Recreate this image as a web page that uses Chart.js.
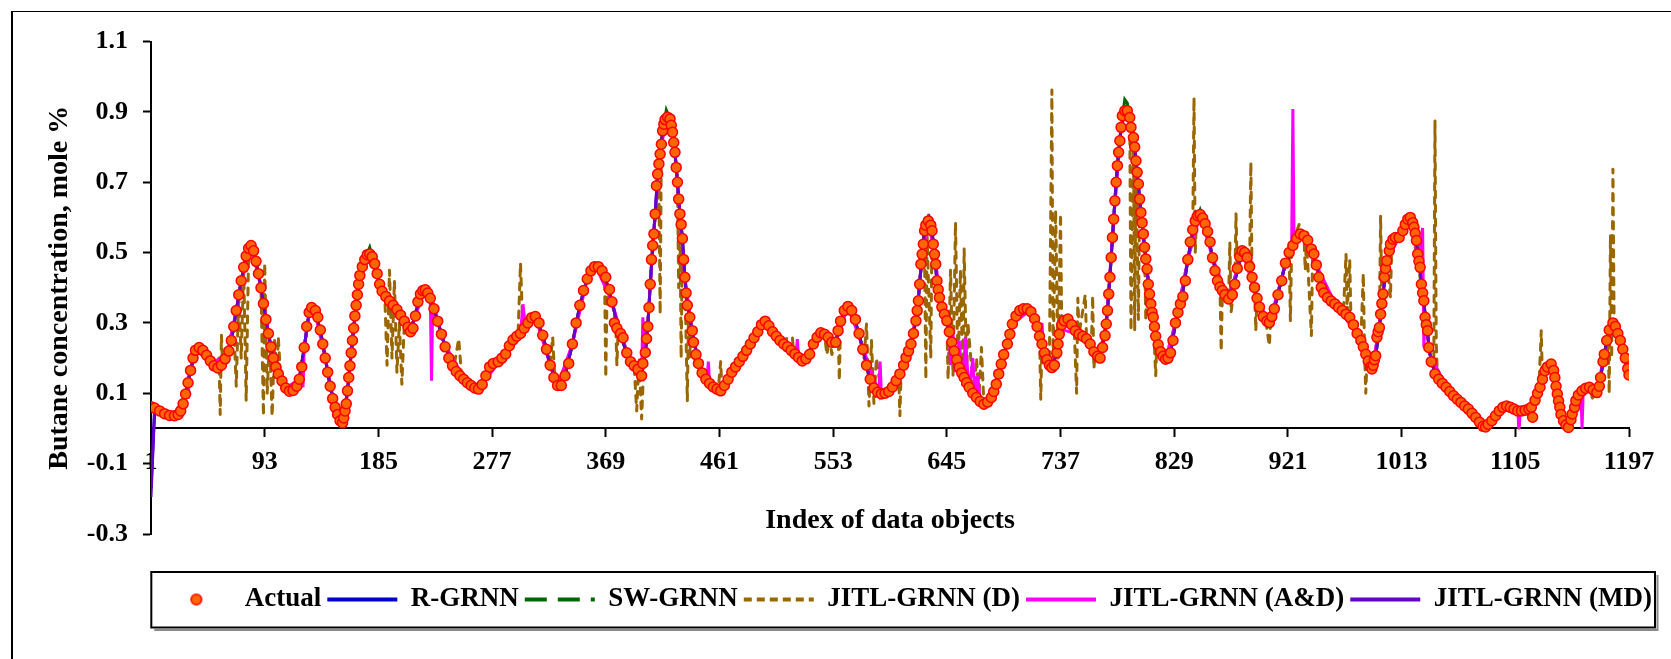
<!DOCTYPE html>
<html lang="en">
<head>
<meta charset="UTF-8">
<title>Butane concentration</title>
<script src="https://cdn.jsdelivr.net/npm/chart.js"></script>
<style>
    html, body { margin: 0; padding: 0; background: #fff; overflow: hidden; }
    #frame {
        position: absolute; left: 11px; top: 11px; width: 1700px; height: 700px;
        border-left: 2px solid #000; border-top: 1px solid #000;
    }
    #chartCanvas { position: absolute; left: 0; top: 0; }
</style>
</head>
<body>
<div id="frame"></div>
<canvas id="chartCanvas" width="1671" height="659"></canvas>
<script>
// x axis: index of data objects, ticks every 92 from 1 to 1197
const X_MIN = 1, X_MAX = 1197, X_STEP = 92;
const Y_MIN = -0.3, Y_MAX = 1.1, Y_STEP = 0.2;

// [index, mole %]
const actual = [[1,.062],[4,.058],[8,.05],[12,.042],[16,.037],[20,.036],[23,.04],[25,.05],[27,.07],[29,.098],[31,.13],[33,.165],[35,.2],[37,.222],[40,.23],[43,.222],[46,.208],[49,.192],[52,.178],[55,.172],[58,.18],[61,.198],[64,.22],[66,.25],[68,.29],[70,.335],[72,.38],[74,.42],[76,.458],[78,.49],[80,.512],[82,.52],[84,.505],[86,.475],[88,.44],[90,.4],[92,.355],[94,.31],[96,.27],[98,.232],[100,.2],[102,.175],[104,.155],[107,.135],[110,.115],[113,.106],[116,.108],[119,.12],[121,.14],[123,.175],[125,.23],[127,.29],[129,.33],[131,.344],[134,.335],[136,.316],[138,.28],[140,.24],[142,.2],[144,.16],[146,.12],[148,.085],[150,.06],[152,.04],[154,.022],[156,.016],[157,.03],[158,.05],[159,.07],[160,.107],[161,.145],[162,.178],[163,.215],[164,.25],[165,.285],[166,.32],[167,.35],[168,.38],[169,.41],[170,.435],[172,.46],[174,.48],[176,.494],[178,.496],[180,.488],[182,.468],[184,.44],[186,.41],[188,.39],[191,.375],[194,.362],[197,.35],[200,.338],[203,.322],[206,.305],[209,.288],[211,.275],[213,.285],[215,.32],[217,.36],[219,.382],[221,.392],[223,.394],[225,.385],[227,.37],[230,.34],[233,.305],[236,.268],[239,.232],[242,.2],[245,.178],[248,.162],[251,.15],[254,.14],[257,.13],[260,.122],[263,.115],[266,.112],[269,.125],[272,.15],[275,.175],[278,.185],[282,.19],[285,.2],[288,.212],[291,.235],[294,.252],[297,.262],[300,.27],[303,.285],[306,.3],[309,.315],[312,.318],[315,.3],[318,.265],[321,.225],[324,.18],[327,.145],[330,.122],[333,.122],[336,.15],[339,.185],[342,.24],[345,.3],[348,.35],[351,.392],[354,.425],[357,.448],[360,.46],[363,.46],[366,.448],[369,.43],[372,.395],[374,.36],[376,.3],[378,.285],[381,.27],[383,.258],[386,.215],[389,.19],[392,.178],[395,.168],[398,.15],[399,.185],[401,.216],[402,.255],[403,.29],[404,.344],[405,.41],[406,.48],[407,.52],[408,.553],[409,.61],[410,.69],[411,.723],[412,.752],[413,.78],[414,.808],[415,.846],[416,.865],[417,.878],[419,.885],[421,.88],[422,.862],[423,.842],[424,.813],[425,.785],[426,.742],[427,.7],[428,.652],[429,.61],[430,.58],[431,.54],[432,.48],[433,.43],[434,.385],[435,.35],[437,.316],[439,.278],[440,.245],[442,.21],[444,.185],[447,.158],[450,.14],[453,.128],[456,.118],[459,.112],[462,.107],[465,.122],[468,.14],[471,.16],[474,.175],[477,.19],[480,.205],[483,.222],[486,.24],[489,.258],[492,.275],[495,.295],[498,.305],[501,.292],[504,.275],[507,.262],[510,.25],[513,.24],[516,.232],[519,.222],[522,.212],[525,.202],[528,.192],[531,.198],[534,.211],[537,.24],[540,.259],[543,.272],[546,.268],[549,.259],[552,.245],[555,.245],[557,.278],[559,.305],[562,.335],[565,.347],[568,.335],[571,.31],[574,.27],[577,.225],[580,.18],[583,.14],[586,.115],[589,.103],[592,.098],[595,.1],[598,.105],[601,.118],[604,.136],[607,.155],[610,.18],[612,.202],[614,.22],[616,.24],[618,.27],[620,.306],[621,.335],[622,.363],[623,.41],[624,.467],[625,.495],[626,.524],[627,.562],[628,.578],[630,.59],[632,.578],[633,.562],[634,.524],[635,.495],[636,.467],[637,.42],[638,.395],[639,.372],[641,.345],[643,.325],[645,.306],[647,.275],[649,.245],[651,.22],[653,.195],[655,.173],[657,.158],[659,.145],[661,.13],[663,.117],[666,.1],[669,.088],[672,.077],[675,.069],[678,.075],[681,.088],[683,.105],[685,.126],[687,.155],[689,.183],[691,.21],[694,.24],[696,.268],[698,.297],[701,.32],[704,.335],[707,.34],[710,.34],[713,.332],[716,.312],[718,.29],[720,.262],[722,.24],[724,.215],[726,.195],[728,.18],[730,.173],[732,.18],[734,.215],[735,.24],[736,.268],[738,.295],[740,.306],[743,.311],[746,.295],[749,.278],[752,.268],[755,.262],[758,.255],[761,.24],[764,.218],[767,.205],[769,.2],[771,.23],[773,.264],[774,.297],[775,.335],[776,.382],[777,.43],[778,.486],[779,.543],[780,.595],[781,.647],[782,.7],[783,.747],[784,.785],[785,.818],[786,.856],[787,.889],[789,.903],[791,.903],[793,.884],[794,.856],[796,.827],[797,.8],[798,.761],[799,.728],[800,.695],[801,.652],[802,.614],[803,.585],[804,.553],[805,.515],[806,.482],[807,.453],[808,.41],[809,.382],[810,.354],[811,.33],[812,.316],[813,.29],[814,.262],[816,.238],[818,.218],[820,.205],[822,.197],[824,.2],[826,.215],[828,.25],[830,.3],[832,.33],[834,.354],[836,.375],[838,.42],[840,.48],[842,.53],[844,.565],[846,.59],[848,.605],[850,.608],[852,.598],[854,.582],[856,.56],[858,.53],[860,.485],[862,.448],[864,.42],[866,.402],[868,.392],[870,.38],[873,.368],[876,.38],[878,.41],[880,.455],[882,.488],[884,.505],[886,.5],[888,.486],[890,.46],[892,.43],[894,.401],[896,.37],[898,.345],[901,.318],[904,.305],[906,.301],[908,.318],[910,.34],[913,.38],[916,.42],[919,.47],[922,.5],[925,.52],[928,.54],[931,.553],[934,.548],[937,.535],[940,.51],[942,.496],[944,.465],[946,.43],[948,.401],[950,.385],[953,.372],[956,.362],[959,.354],[962,.344],[965,.335],[968,.325],[971,.316],[974,.295],[977,.27],[980,.25],[982,.232],[984,.211],[986,.192],[988,.175],[989,.169],[990,.18],[991,.195],[992,.207],[993,.259],[994,.275],[995,.287],[996,.325],[997,.355],[998,.382],[999,.43],[1000,.455],[1001,.477],[1003,.505],[1004,.524],[1006,.538],[1008,.543],[1011,.543],[1014,.562],[1016,.58],[1018,.595],[1020,.6],[1022,.585],[1023,.572],[1024,.555],[1025,.534],[1026,.496],[1027,.475],[1028,.458],[1029,.41],[1030,.385],[1031,.363],[1032,.316],[1033,.295],[1034,.278],[1035,.23],[1037,.19],[1040,.155],[1043,.14],[1046,.128],[1049,.117],[1052,.105],[1055,.093],[1058,.083],[1061,.074],[1064,.064],[1067,.055],[1070,.043],[1073,.031],[1076,.018],[1079,.006],[1081,.004],[1083,.012],[1086,.022],[1089,.036],[1092,.05],[1095,.06],[1098,.064],[1101,.06],[1104,.055],[1107,.05],[1110,.05],[1113,.052],[1116,.055],[1118,.06],[1119,.032],[1121,.08],[1123,.1],[1125,.117],[1127,.14],[1129,.164],[1131,.175],[1134,.183],[1136,.165],[1137,.145],[1138,.12],[1139,.098],[1140,.078],[1141,.06],[1142,.04],[1144,.022],[1146,.01],[1148,.003],[1150,.025],[1151,.041],[1153,.06],[1154,.079],[1156,.095],[1159,.107],[1162,.114],[1165,.117],[1168,.11],[1171,.102],[1173,.12],[1174,.145],[1176,.19],[1177,.211],[1179,.25],[1181,.28],[1184,.3],[1186,.29],[1188,.27],[1190,.25],[1192,.225],[1194,.2],[1196,.17],[1197,.152]];

const rGrnn = [[1,-.17],[4,.058],[12,.042],[20,.036],[25,.05],[29,.098],[33,.165],[37,.222],[42,.225],[50,.188],[56,.174],[62,.205],[66,.25],[70,.335],[74,.42],[78,.49],[82,.52],[86,.475],[90,.4],[94,.31],[98,.232],[103,.165],[110,.115],[116,.108],[121,.14],[125,.23],[129,.33],[133,.34],[138,.28],[142,.2],[146,.12],[150,.06],[154,.022],[156,.016],[158,.05],[160,.107],[162,.178],[164,.25],[166,.32],[168,.38],[170,.435],[174,.48],[178,.496],[182,.468],[186,.41],[195,.358],[204,.316],[211,.275],[216,.34],[222,.394],[230,.34],[238,.244],[246,.172],[256,.133],[266,.112],[274,.165],[284,.195],[294,.252],[304,.29],[312,.318],[318,.265],[324,.18],[330,.122],[336,.15],[342,.24],[348,.35],[354,.425],[361,.46],[368,.436],[374,.36],[380,.275],[386,.215],[392,.178],[398,.15],[401,.216],[403,.29],[405,.41],[407,.52],[409,.61],[411,.723],[413,.78],[415,.846],[418,.883],[421,.88],[423,.842],[425,.785],[427,.7],[429,.61],[431,.54],[433,.43],[435,.35],[439,.278],[444,.185],[452,.132],[462,.107],[474,.175],[486,.24],[498,.305],[508,.255],[518,.225],[528,.192],[536,.23],[543,.272],[550,.255],[555,.245],[560,.315],[565,.347],[570,.318],[576,.24],[582,.15],[590,.1],[600,.112],[608,.16],[614,.22],[618,.27],[621,.335],[623,.41],[625,.495],[627,.562],[630,.59],[633,.562],[635,.495],[637,.42],[641,.345],[647,.275],[653,.195],[660,.138],[668,.092],[675,.069],[682,.095],[687,.155],[692,.22],[698,.297],[705,.338],[712,.336],[718,.29],[724,.215],[730,.173],[734,.215],[737,.282],[743,.311],[752,.268],[761,.24],[768,.202],[772,.25],[774,.297],[776,.382],[778,.486],[780,.595],[782,.7],[784,.785],[786,.856],[789,.903],[791,.903],[793,.884],[795,.84],[797,.8],[799,.728],[801,.652],[803,.585],[805,.515],[807,.453],[809,.382],[811,.33],[814,.262],[818,.218],[822,.197],[826,.215],[830,.3],[835,.365],[840,.48],[845,.578],[850,.608],[855,.572],[860,.485],[866,.402],[873,.368],[879,.432],[884,.505],[890,.46],[896,.37],[903,.308],[910,.34],[918,.455],[926,.525],[932,.552],[938,.53],[944,.465],[950,.385],[960,.35],[970,.318],[978,.262],[984,.211],[989,.169],[992,.207],[995,.287],[998,.382],[1001,.477],[1005,.532],[1011,.543],[1016,.58],[1020,.6],[1024,.555],[1027,.475],[1030,.385],[1033,.295],[1036,.21],[1040,.155],[1050,.113],[1060,.077],[1070,.043],[1080,.005],[1090,.04],[1098,.064],[1106,.052],[1114,.053],[1120,.07],[1124,.108],[1128,.152],[1134,.183],[1137,.145],[1140,.078],[1143,.03],[1148,.003],[1152,.05],[1156,.095],[1164,.116],[1171,.102],[1174,.145],[1177,.211],[1180,.265],[1184,.3],[1190,.25],[1197,.152]];

const swGrnn = [[1,.062],[4,.058],[12,.042],[20,.036],[25,.05],[29,.098],[33,.165],[37,.222],[42,.225],[50,.188],[56,.174],[62,.205],[66,.25],[70,.335],[74,.42],[78,.49],[82,.528],[86,.475],[90,.4],[94,.31],[98,.232],[103,.165],[110,.115],[116,.108],[121,.14],[125,.23],[129,.33],[133,.34],[138,.28],[142,.2],[146,.12],[150,.06],[154,.022],[156,.016],[158,.05],[160,.107],[162,.178],[164,.25],[166,.32],[168,.38],[170,.435],[174,.48],[178,.515],[182,.468],[186,.41],[195,.358],[204,.316],[211,.275],[216,.34],[222,.394],[230,.34],[238,.244],[246,.172],[256,.133],[266,.112],[274,.165],[284,.195],[294,.252],[304,.29],[312,.318],[318,.265],[324,.18],[330,.122],[336,.15],[342,.24],[348,.35],[354,.425],[361,.46],[368,.436],[374,.36],[380,.275],[386,.215],[392,.178],[398,.15],[401,.216],[403,.29],[405,.41],[407,.52],[409,.61],[411,.723],[413,.78],[415,.846],[418,.905],[421,.88],[423,.842],[425,.785],[427,.7],[429,.61],[431,.54],[433,.43],[435,.35],[439,.278],[444,.185],[452,.132],[462,.107],[474,.175],[486,.24],[498,.305],[508,.255],[518,.225],[528,.192],[536,.23],[543,.272],[550,.255],[555,.245],[560,.315],[565,.347],[570,.318],[576,.24],[582,.15],[590,.1],[600,.112],[608,.16],[614,.22],[618,.27],[621,.335],[623,.41],[625,.495],[627,.562],[630,.612],[633,.562],[635,.495],[637,.42],[641,.345],[647,.275],[653,.195],[660,.138],[668,.092],[675,.069],[682,.095],[687,.155],[692,.22],[698,.297],[705,.338],[712,.336],[718,.29],[724,.215],[730,.173],[734,.215],[737,.282],[743,.318],[752,.268],[761,.24],[768,.202],[772,.25],[774,.297],[776,.382],[778,.486],[780,.595],[782,.7],[784,.785],[786,.856],[789,.935],[791,.925],[793,.884],[795,.84],[797,.8],[799,.728],[801,.652],[803,.585],[805,.515],[807,.453],[809,.382],[811,.33],[814,.262],[818,.218],[822,.19],[826,.215],[830,.3],[835,.365],[840,.48],[845,.578],[850,.622],[855,.572],[860,.485],[866,.402],[873,.368],[879,.432],[884,.505],[890,.46],[896,.37],[903,.308],[910,.34],[918,.455],[926,.525],[932,.552],[938,.53],[944,.465],[950,.385],[960,.35],[970,.318],[978,.262],[984,.211],[989,.169],[992,.207],[995,.287],[998,.382],[1001,.477],[1005,.532],[1008,.56],[1011,.545],[1016,.58],[1020,.6],[1024,.555],[1027,.475],[1030,.385],[1033,.295],[1036,.21],[1040,.155],[1050,.113],[1060,.077],[1070,.043],[1080,.005],[1090,.04],[1098,.064],[1106,.052],[1114,.053],[1120,.07],[1124,.108],[1128,.152],[1134,.183],[1137,.145],[1140,.078],[1143,.03],[1148,-.005],[1152,.05],[1156,.095],[1164,.116],[1171,.102],[1174,.145],[1177,.211],[1180,.265],[1184,.3],[1190,.25],[1197,.152]];

const jitlD = [[1,.062],[12,.042],[20,.036],[25,.05],[30,.115],[34,.2],[37,.222],[45,.215],[52,.178],[56,.2],[57,.04],[58,.265],[59,.178],[62,.205],[66,.25],[68,.29],[70,.12],[72,.38],[74,.2],[76,.458],[78,.08],[80,.5],[82,.52],[86,.475],[88,.44],[90,.4],[92,.036],[93,.47],[95,.1],[97,.26],[99,.035],[101,.25],[103,.16],[104,.26],[106,.14],[110,.115],[116,.108],[121,.14],[125,.23],[129,.33],[133,.34],[138,.28],[142,.2],[146,.12],[150,.06],[156,.016],[160,.107],[164,.25],[168,.38],[172,.46],[176,.494],[180,.488],[186,.41],[190,.4],[192,.18],[194,.45],[196,.2],[198,.42],[200,.16],[202,.3],[204,.126],[206,.3],[211,.275],[216,.34],[222,.394],[230,.34],[238,.244],[246,.172],[250,.255],[252,.165],[256,.133],[266,.112],[274,.165],[284,.195],[294,.252],[298,.265],[300,.47],[302,.275],[309,.315],[312,.318],[318,.265],[324,.18],[326,.26],[328,.13],[332,.122],[342,.24],[348,.35],[354,.425],[361,.46],[368,.44],[369,.145],[370,.373],[374,.36],[377,.3],[378,.18],[379,.28],[383,.258],[386,.215],[392,.178],[394,.05],[396,.2],[398,.027],[400,.2],[402,.255],[405,.41],[409,.61],[412,.685],[413,.325],[414,.808],[415,.846],[418,.883],[421,.88],[424,.813],[427,.7],[428,.4],[429,.61],[430,.2],[431,.54],[433,.43],[435,.079],[436,.33],[437,.2],[438,.3],[440,.245],[444,.185],[452,.132],[460,.11],[462,.19],[463,.11],[474,.175],[486,.24],[498,.305],[510,.25],[520,.26],[521,.215],[528,.192],[540,.259],[546,.265],[548,.21],[550,.26],[552,.21],[554,.245],[557,.278],[558,.136],[559,.305],[565,.347],[574,.27],[578,.2],[580,.297],[582,.064],[584,.25],[586,.07],[588,.2],[592,.098],[600,.112],[606,.15],[607,.036],[608,.16],[614,.22],[620,.306],[625,.495],[627,.486],[628,.14],[629,.55],[632,.2],[633,.56],[637,.42],[645,.306],[646,.14],[648,.45],[650,.15],[652,.586],[654,.16],[656,.45],[658,.14],[659,.51],[661,.15],[662,.3],[667,.09],[669,.2],[671,.09],[673,.23],[675,.069],[685,.126],[698,.297],[712,.336],[720,.262],[721,.083],[722,.25],[724,.215],[728,.2],[730,.962],[731,.18],[733,.62],[735,.2],[737,.61],[738,.28],[743,.311],[748,.29],[750,.1],[751,.37],[752,.268],[757,.38],[758,.26],[762,.24],[763,.377],[764,.17],[765,.211],[768,.202],[774,.297],[780,.595],[786,.856],[790,.903],[793,.884],[794,.278],[796,.82],[797,.28],[798,.761],[800,.31],[801,.652],[805,.515],[806,.306],[807,.453],[812,.32],[814,.15],[815,.25],[822,.197],[830,.3],[840,.48],[844,.565],[845,.94],[846,.5],[847,.6],[850,.608],[855,.572],[862,.448],[866,.402],[867,.22],[868,.392],[873,.368],[874,.53],[875,.33],[878,.41],[879,.61],[880,.455],[884,.505],[890,.46],[891,.756],[892,.43],[894,.401],[895,.278],[896,.37],[903,.308],[906,.235],[907,.31],[918,.455],[922,.5],[923,.306],[924,.515],[930,.58],[931,.553],[934,.548],[935,.45],[936,.54],[940,.264],[941,.5],[950,.385],[966,.335],[968,.496],[969,.33],[971,.48],[972,.31],[980,.25],[982,.44],[983,.22],[984,.1],[985,.2],[989,.169],[995,.287],[996,.605],[997,.355],[1001,.477],[1004,.372],[1005,.532],[1011,.543],[1020,.6],[1030,.385],[1036,.21],[1039,.16],[1040,.875],[1041,.25],[1042,.14],[1050,.113],[1060,.077],[1070,.043],[1080,.005],[1090,.04],[1098,.064],[1107,.05],[1108,-.005],[1109,.05],[1120,.07],[1124,.11],[1126,.278],[1127,.13],[1134,.183],[1140,.078],[1148,.003],[1156,.095],[1165,.117],[1168,.079],[1170,.1],[1174,.145],[1180,.265],[1181,.1],[1182,.55],[1183,.2],[1184,.737],[1185,.28],[1186,.29],[1190,.25],[1197,.152]];

const jitlAD = [[1,.062],[20,.036],[29,.098],[30,.12],[31,.085],[32,.15],[37,.222],[50,.188],[62,.205],[70,.335],[78,.49],[82,.52],[90,.4],[98,.232],[110,.115],[121,.14],[123,.175],[124,.117],[125,.23],[129,.33],[133,.34],[142,.2],[150,.06],[156,.016],[160,.107],[164,.25],[168,.38],[174,.48],[178,.496],[186,.41],[204,.316],[211,.275],[222,.394],[227,.37],[228,.136],[229,.36],[238,.244],[256,.133],[266,.112],[284,.195],[294,.252],[300,.27],[302,.353],[304,.29],[312,.318],[324,.18],[330,.122],[342,.24],[354,.425],[361,.46],[374,.36],[386,.215],[398,.15],[399,.316],[401,.216],[403,.29],[405,.41],[409,.61],[413,.78],[418,.883],[421,.88],[425,.785],[429,.61],[433,.43],[439,.278],[444,.185],[451,.133],[452,.19],[453,.13],[462,.107],[486,.24],[498,.305],[518,.225],[523,.206],[524,.254],[525,.202],[528,.192],[543,.272],[555,.245],[565,.347],[576,.24],[590,.1],[591,.19],[592,.098],[600,.112],[614,.22],[621,.335],[625,.495],[630,.59],[635,.495],[641,.345],[647,.275],[648,.18],[650,.27],[652,.16],[655,.25],[658,.12],[660,.26],[663,.1],[666,.2],[668,.08],[670,.15],[672,.077],[675,.069],[687,.155],[698,.297],[712,.336],[721,.25],[722,.3],[723,.23],[730,.173],[737,.282],[752,.268],[768,.202],[774,.297],[780,.595],[786,.856],[789,.903],[793,.884],[797,.8],[801,.652],[805,.515],[809,.382],[814,.262],[822,.197],[830,.3],[840,.48],[850,.608],[860,.485],[873,.368],[884,.505],[896,.37],[906,.301],[918,.455],[924,.515],[925,.908],[926,.525],[932,.552],[944,.465],[960,.35],[978,.262],[989,.169],[995,.287],[1001,.477],[1011,.543],[1020,.6],[1027,.475],[1030,.57],[1031,.23],[1032,.316],[1036,.21],[1050,.113],[1070,.043],[1080,.005],[1098,.064],[1107,.05],[1108,0],[1109,.05],[1120,.07],[1128,.152],[1134,.183],[1140,.078],[1148,.003],[1156,.095],[1158,.11],[1159,0],[1160,.11],[1171,.102],[1177,.211],[1184,.3],[1197,.152]];

const mdGrnn = [[1,-.195],[4,.058],[12,.042],[20,.036],[25,.05],[29,.098],[33,.165],[37,.222],[42,.225],[50,.188],[56,.174],[62,.205],[66,.25],[70,.335],[74,.42],[78,.49],[82,.52],[86,.475],[90,.4],[94,.31],[98,.232],[103,.165],[110,.115],[116,.108],[121,.14],[125,.23],[129,.33],[133,.34],[138,.28],[142,.2],[146,.12],[150,.06],[154,.022],[156,.016],[158,.05],[160,.107],[162,.178],[164,.25],[166,.32],[168,.38],[170,.435],[174,.48],[178,.496],[182,.468],[186,.41],[195,.358],[204,.316],[211,.275],[216,.34],[222,.394],[230,.34],[238,.244],[246,.172],[256,.133],[266,.112],[274,.165],[284,.195],[294,.252],[304,.29],[312,.318],[318,.265],[324,.18],[330,.122],[336,.15],[342,.24],[348,.35],[354,.425],[361,.46],[368,.436],[374,.36],[380,.275],[386,.215],[392,.178],[398,.15],[401,.216],[403,.29],[405,.41],[407,.52],[409,.61],[411,.723],[413,.78],[415,.846],[418,.883],[421,.88],[423,.842],[425,.785],[427,.7],[429,.61],[431,.54],[433,.43],[435,.35],[439,.278],[444,.185],[452,.132],[462,.107],[474,.175],[486,.24],[498,.305],[508,.255],[518,.225],[528,.192],[536,.23],[543,.272],[550,.255],[555,.245],[560,.315],[565,.347],[570,.318],[576,.24],[582,.15],[590,.1],[600,.112],[608,.16],[614,.22],[618,.27],[621,.335],[623,.41],[625,.495],[627,.562],[630,.59],[633,.562],[635,.495],[637,.42],[641,.345],[647,.275],[653,.195],[660,.138],[668,.092],[675,.069],[682,.095],[687,.155],[692,.22],[698,.297],[705,.338],[712,.336],[718,.29],[724,.215],[730,.173],[734,.215],[737,.282],[743,.311],[752,.268],[761,.24],[768,.202],[772,.25],[774,.297],[776,.382],[778,.486],[780,.595],[782,.7],[784,.785],[786,.856],[789,.903],[791,.903],[793,.884],[795,.84],[797,.8],[799,.728],[801,.652],[803,.585],[805,.515],[807,.453],[809,.382],[811,.33],[814,.262],[818,.218],[822,.197],[826,.215],[830,.3],[835,.365],[840,.48],[845,.578],[850,.608],[855,.572],[860,.485],[866,.402],[873,.368],[879,.432],[884,.505],[890,.46],[896,.37],[903,.308],[910,.34],[918,.455],[926,.525],[932,.552],[938,.53],[944,.465],[950,.385],[960,.35],[970,.318],[978,.262],[984,.211],[989,.169],[992,.207],[995,.287],[998,.382],[1001,.477],[1005,.532],[1011,.543],[1016,.58],[1020,.6],[1024,.555],[1027,.475],[1030,.385],[1033,.295],[1036,.21],[1040,.155],[1050,.113],[1060,.077],[1070,.043],[1080,.005],[1090,.04],[1098,.064],[1106,.052],[1114,.053],[1120,.07],[1124,.108],[1128,.152],[1134,.183],[1137,.145],[1140,.078],[1143,.03],[1148,.003],[1152,.05],[1156,.095],[1164,.116],[1171,.102],[1174,.145],[1177,.211],[1180,.265],[1184,.3],[1190,.25],[1197,.152]];

const ORANGE = '#FF6600', RED = '#FF0000';

function toPoints(pairs) {
    return pairs.map(p => ({ x: p[0], y: p[1] }));
}

// marker used for "Actual" in the legend (as wide as the legend symbol box)
const dot = document.createElement('canvas');
dot.width = 70; dot.height = 14;
const dctx = dot.getContext('2d');
dctx.beginPath();
dctx.arc(35, 7, 5.3, 0, Math.PI * 2);
dctx.fillStyle = ORANGE;
dctx.fill();
dctx.lineWidth = 1.5;
dctx.strokeStyle = RED;
dctx.stroke();

// legend line styles
const legendDash = [[], [], [22, 11], [8, 5], [], []];

// box around the legend, drawn from the legend's own hit boxes
const legendFrame = {
    id: 'legendFrame',
    afterDraw(chart) {
        const boxes = chart.legend && chart.legend.legendHitBoxes;
        if (!boxes || !boxes.length) return;
        const first = boxes[0], last = boxes[boxes.length - 1];
        const l = first.left - 10, r = last.left + last.width + 3;
        const t = first.top - 14, b = first.top + first.height + 14.5;
        const ctx = chart.ctx;
        ctx.save();
        ctx.strokeStyle = '#8a8a8a';
        ctx.lineWidth = 2;
        ctx.beginPath();
        ctx.moveTo(l + 3, b + 2.5);
        ctx.lineTo(r + 2.5, b + 2.5);
        ctx.lineTo(r + 2.5, t + 3);
        ctx.stroke();
        ctx.strokeStyle = '#000';
        ctx.lineWidth = 2;
        ctx.strokeRect(l, t, r - l, b - t);
        ctx.restore();
    }
};

Chart.defaults.font.family = "'Liberation Serif', 'Times New Roman', serif";
Chart.defaults.font.weight = 'bold';
Chart.defaults.color = '#000';

const lineBase = { pointRadius: 0, borderWidth: 3, tension: 0, fill: false, xAxisID: 'x', yAxisID: 'y' };

new Chart(document.getElementById('chartCanvas'), {
    type: 'line',
    data: {
        datasets: [
            { label: 'Actual', data: toPoints(actual), showLine: false, pointRadius: 5, pointBorderWidth: 1.5,
              pointBackgroundColor: ORANGE, pointBorderColor: RED, borderColor: RED, backgroundColor: ORANGE,
              xAxisID: 'x', yAxisID: 'y', order: 0 },
            Object.assign({ label: 'R-GRNN', data: toPoints(rGrnn), borderColor: '#0000CC', order: 5 }, lineBase),
            Object.assign({ label: 'SW-GRNN', data: toPoints(swGrnn), borderColor: '#006600', borderDash: [22, 11], order: 4 }, lineBase),
            Object.assign({ label: 'JITL-GRNN (D)', data: toPoints(jitlD), borderColor: '#996600', borderDash: [7, 7],
              borderCapStyle: 'round', borderJoinStyle: 'round', order: 3 }, lineBase),
            Object.assign({ label: 'JITL-GRNN (A&D)', data: toPoints(jitlAD), borderColor: '#FF00FF', order: 2 }, lineBase),
            Object.assign({ label: 'JITL-GRNN (MD)', data: toPoints(mdGrnn), borderColor: '#6600CC', order: 1 }, lineBase)
        ]
    },
    options: {
        responsive: false,
        animation: false,
        devicePixelRatio: 1,
        layout: { padding: { left: 0, right: 13, top: 41.5, bottom: 36 } },
        scales: {
            x: {
                type: 'linear',
                position: { y: 0 },
                min: X_MIN, max: X_MAX,
                afterFit: s => { s.height = 46; },
                border: { display: true, color: '#000', width: 2 },
                grid: { drawOnChartArea: false, drawTicks: true, tickLength: 8, tickWidth: 2, tickColor: '#000' },
                ticks: { stepSize: X_STEP, padding: 10, maxRotation: 0, autoSkip: false,
                         font: { size: 26, weight: 'bold' }, callback: v => String(v) },
                title: { display: true, text: 'Index of data objects', font: { size: 28, weight: 'bold' },
                         padding: { top: 0, bottom: -63.5 } }
            },
            // empty bottom axis: keeps room between the plot and the legend
            xb: {
                type: 'linear',
                position: 'bottom',
                min: 0, max: 1,
                afterFit: s => { s.height = 46; },
                grid: { display: false },
                border: { display: false },
                ticks: { display: false }
            },
            y: {
                type: 'linear',
                position: 'left',
                min: Y_MIN, max: Y_MAX,
                afterFit: s => { s.width = 151; },
                border: { display: true, color: '#000', width: 2 },
                grid: { drawOnChartArea: false, drawTicks: true, tickLength: 8, tickWidth: 2, tickColor: '#000' },
                ticks: { stepSize: Y_STEP, padding: 15, font: { size: 26, weight: 'bold' },
                         callback: v => Number(v).toFixed(1) },
                title: { display: true, text: 'Butane concentration, mole %', font: { size: 28, weight: 'bold' },
                         padding: { top: 43.2, bottom: 0 } }
            },
            // empty right-hand axis: keeps room on the right of the plot
            yr: {
                type: 'linear',
                position: 'right',
                min: 0, max: 1,
                afterFit: s => { s.width = 29; },
                grid: { display: false },
                border: { display: false },
                ticks: { display: false }
            }
        },
        plugins: {
            tooltip: { enabled: false },
            legend: {
                position: 'bottom',
                align: 'end',
                labels: {
                    usePointStyle: true,
                    pointStyleWidth: 70,
                    boxHeight: 8,
                    padding: 6,
                    font: { size: 27, weight: 'bold' },
                    generateLabels: chart => chart.data.datasets.map((ds, i) => ({
                        text: ds.label,
                        datasetIndex: i,
                        hidden: false,
                        fontColor: '#000',
                        fillStyle: i === 0 ? ORANGE : ds.borderColor,
                        strokeStyle: ds.borderColor,
                        lineWidth: 4,
                        lineDash: legendDash[i],
                        lineCap: 'butt',
                        pointStyle: i === 0 ? dot : 'line'
                    }))
                }
            }
        }
    },
    plugins: [legendFrame]
});
</script>
</body>
</html>
